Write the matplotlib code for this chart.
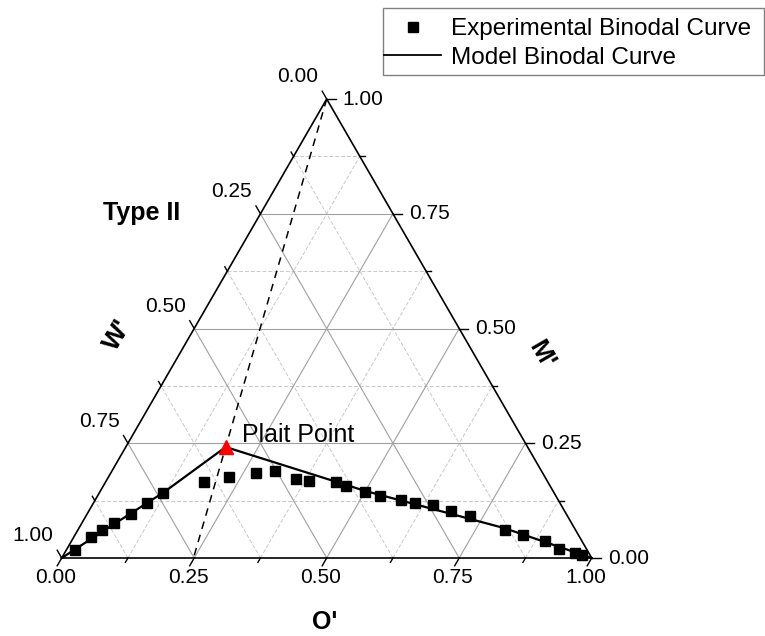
import numpy as np
import matplotlib
matplotlib.use('Agg')
import matplotlib.pyplot as plt
from matplotlib.lines import Line2D
from matplotlib.patches import Rectangle

plt.rcParams['font.family'] = ['Liberation Sans', 'DejaVu Sans']

# experimental binodal points, (O', M') fractions, W' = 1 - O' - M'
exp_O = [0.016, 0.032, 0.046, 0.061, 0.082, 0.101, 0.121, 0.185, 0.227, 0.273,
         0.308, 0.356, 0.382, 0.434, 0.457, 0.500, 0.533, 0.577, 0.608, 0.644,
         0.683, 0.725, 0.805, 0.845, 0.894, 0.929, 0.963, 0.978]
exp_M = [0.017, 0.045, 0.061, 0.076, 0.096, 0.119, 0.142, 0.166, 0.177, 0.186,
         0.190, 0.172, 0.168, 0.166, 0.157, 0.144, 0.136, 0.126, 0.119, 0.115,
         0.102, 0.092, 0.061, 0.050, 0.036, 0.019, 0.010, 0.006]

# model binodal curve
mod_O = [0.0, 0.061, 0.121, 0.1885, 0.50, 0.803, 1.0]
mod_M = [0.0, 0.073, 0.143, 0.2418, 0.146, 0.065, 0.0]

plait_O = 0.1885
plait_M = 0.2418

ticks = [0.0, 0.25, 0.5, 0.75, 1.0]
tick_labels = ['0.00', '0.25', '0.50', '0.75', '1.00']
minor = [0.125, 0.375, 0.625, 0.875]

h = np.sqrt(3) / 2


def xy(o, m):
    o = np.asarray(o, dtype=float)
    m = np.asarray(m, dtype=float)
    return o + m / 2, m * h


fig = plt.figure(figsize=(7.65, 6.36), dpi=100)
ax = fig.add_axes([0, 0, 1, 1])
ax.set_xlim(-61.7 / 530, (765 - 61.7) / 530)
ax.set_ylim((558 - 636) / 530, 558 / 530)
ax.set_aspect('equal')
ax.axis('off')

# grid
for v in minor + ticks[1:-1]:
    if v in minor:
        kw = dict(color='#c8c8c8', lw=0.7, ls=(0, (4, 2)), zorder=1)
    else:
        kw = dict(color='#a0a0a0', lw=0.8, zorder=1)
    ax.plot(*xy([v, v], [0, 1 - v]), **kw)
    ax.plot(*xy([0, 1 - v], [v, v]), **kw)
    ax.plot(*xy([1 - v, 0], [0, 1 - v]), **kw)

# triangle frame
ax.plot(*xy([0, 1, 0, 0], [0, 0, 1, 0]), color='black', lw=1.2, zorder=3)

px = 1 / 530.0
# ticks
for v in ticks + minor:
    ln = 9 * px if v in ticks else 5 * px
    # bottom (O')
    x0, y0 = xy(v, 0)
    ax.plot([x0, x0 - 0.5 * ln], [y0, y0 - h * ln], color='black', lw=1, zorder=3)
    # right (M')
    x0, y0 = xy(1 - v, v)
    ax.plot([x0, x0 + ln], [y0, y0], color='black', lw=1, zorder=3)
    # left (W')
    x0, y0 = xy(0, 1 - v)
    ax.plot([x0, x0 - 0.5 * ln], [y0, y0 + h * ln], color='black', lw=1, zorder=3)

tfs = 15
for v, lab in zip(ticks, tick_labels):
    ax.annotate(lab, xy(v, 0), xytext=(-4.5, -7), textcoords='offset points',
                ha='center', va='top', fontsize=tfs)
    ax.annotate(lab, xy(1 - v, v), xytext=(11.5, 0), textcoords='offset points',
                ha='left', va='center', fontsize=tfs)
    ax.annotate(lab, xy(0, 1 - v), xytext=(-6, 12), textcoords='offset points',
                ha='right', va='baseline', fontsize=tfs)

# axis titles
fig.text(325 / 765, 1 - 622 / 636, "O'", ha='center', va='center',
         fontsize=18, fontweight='bold')
fig.text(118 / 765, 1 - 335 / 636, "W'", ha='center', va='center',
         fontsize=19, fontweight='bold', rotation=60)
fig.text(541 / 765, 1 - 355 / 636, "M'", ha='center', va='center',
         fontsize=19, fontweight='bold', rotation=-60)
fig.text(142 / 765, 1 - 213 / 636, "Type II", ha='center', va='center',
         fontsize=18, fontweight='bold')

# dashed line from M' apex through plait point to the O' axis
tx, ty = xy(0, 1)
pxp, pyp = xy(plait_O, plait_M)
t = ty / (ty - pyp)
ax.plot([tx, tx + t * (pxp - tx)], [ty, 0], color='black', lw=1.1,
        ls=(0, (5, 4)), zorder=4)

# model curve and data
ax.plot(*xy(mod_O, mod_M), color='black', lw=1.6, zorder=5)
ax.plot(*xy(exp_O, exp_M), 's', color='black', ms=7, zorder=6)
ax.plot(*xy([plait_O], [plait_M]), '^', color='red', ms=10, zorder=7)
ax.annotate('Plait Point', (pxp, pyp), xytext=(12, 9), textcoords='offset points',
            ha='left', va='center', fontsize=18)

# legend with its own box
fig.patches.append(Rectangle((383 / 765, 1 - 75 / 636), 381 / 765, 67 / 636,
                             transform=fig.transFigure, fill=False,
                             edgecolor='#808080', lw=1.0))
handles = [Line2D([], [], ls='none', marker='s', color='black', ms=6.5),
           Line2D([], [], color='black', lw=1.3)]
fig.legend(handles, ['Experimental Binodal Curve', 'Model Binodal Curve'],
           loc='upper left', bbox_to_anchor=(384 / 765, 1 - 18 / 636),
           fontsize=17.5, frameon=False, borderaxespad=0, borderpad=0,
           handlelength=2.35, handletextpad=0.4, labelspacing=0.28)

plt.savefig('out.png', dpi=100)
